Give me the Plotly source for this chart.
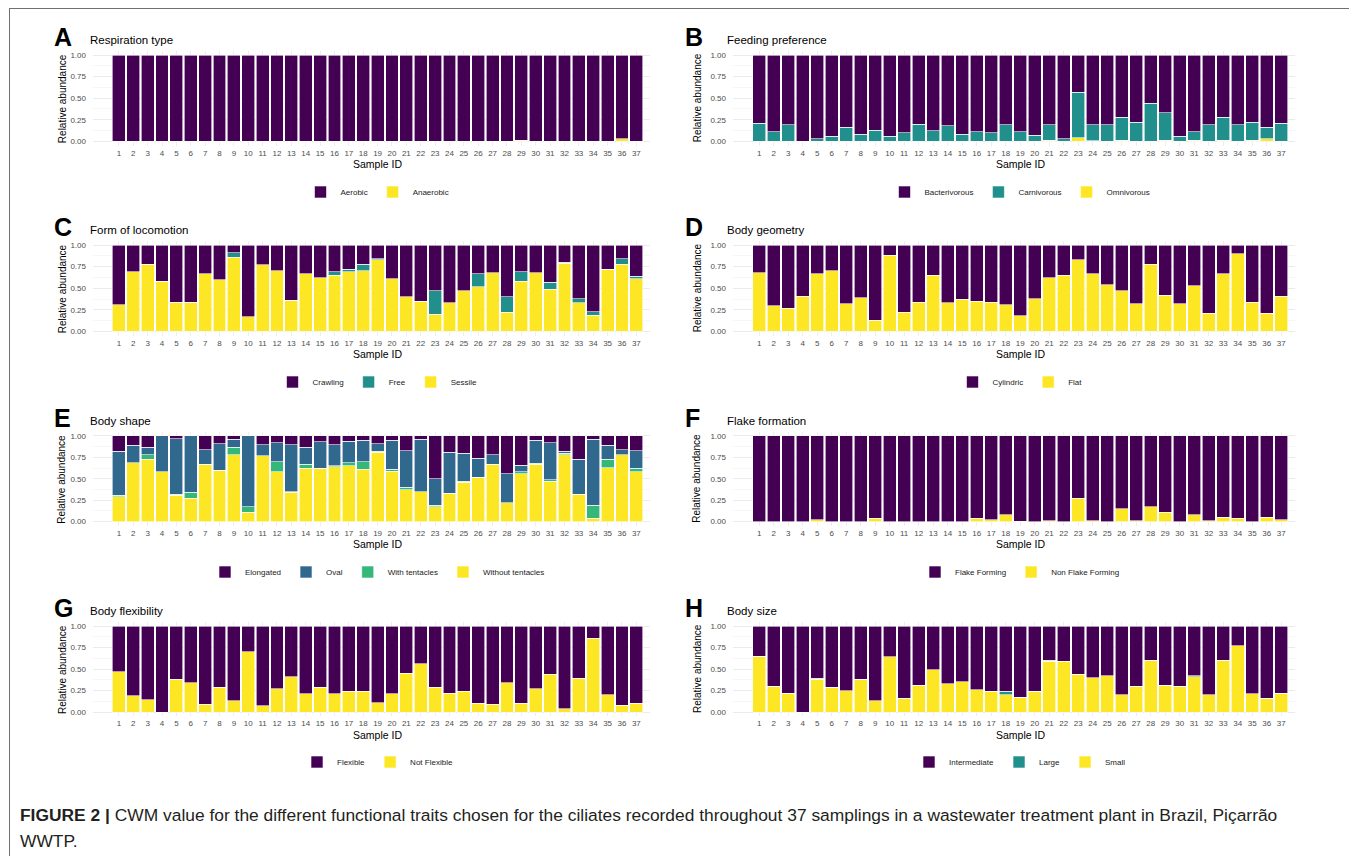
import plotly.graph_objects as go

W, H = 1357, 856
sample_ids = [str(i) for i in range(1, 38)]

# ---------------- data ----------------
# A  Respiration type
resp_levels = ["Aerobic", "Anaerobic"]
resp_aerobic = [1, 1, 1, 1, 1, 1, 1, 1, 1, 1, 1, 1, 1, 1, 1, 1, 1, 1, 1, 1, 1, 1, 1, 1, 1, 1, 1, 1, 0.99, 1, 1, 1, 1, 1, 1, 0.97, 1]
resp_anaerobic = [0, 0, 0, 0, 0, 0, 0, 0, 0, 0, 0, 0, 0, 0, 0, 0, 0, 0, 0, 0, 0, 0, 0, 0, 0, 0, 0, 0, 0.01, 0, 0, 0, 0, 0, 0, 0.03, 0]

# B  Feeding preference
feed_levels = ["Bacterivorous", "Carnivorous", "Omnivorous"]
feed_bacterivorous = [0.79, 0.89, 0.81, 1.00, 0.97, 0.94, 0.84, 0.92, 0.87, 0.94, 0.90, 0.80, 0.88, 0.82, 0.92, 0.89, 0.90, 0.81, 0.89, 0.93, 0.81, 0.97, 0.43, 0.81, 0.81, 0.72, 0.78, 0.56, 0.67, 0.94, 0.89, 0.81, 0.72, 0.81, 0.78, 0.84, 0.79]
feed_carnivorous = [0.21, 0.11, 0.19, 0.00, 0.03, 0.06, 0.16, 0.08, 0.13, 0.06, 0.10, 0.20, 0.12, 0.18, 0.08, 0.11, 0.10, 0.19, 0.11, 0.07, 0.18, 0.03, 0.53, 0.185, 0.19, 0.27, 0.22, 0.44, 0.32, 0.06, 0.10, 0.19, 0.27, 0.19, 0.21, 0.13, 0.21]
feed_omnivorous = [0, 0, 0, 0, 0, 0, 0, 0, 0, 0, 0, 0, 0, 0, 0, 0, 0, 0, 0, 0, 0.01, 0, 0.04, 0.005, 0, 0.01, 0, 0, 0.01, 0, 0.01, 0, 0.01, 0, 0.01, 0.03, 0]

# C  Form of locomotion
loco_levels = ["Crawling", "Free", "Sessile"]
loco_crawling = [0.69, 0.31, 0.22, 0.42, 0.66, 0.66, 0.33, 0.40, 0.09, 0.83, 0.23, 0.30, 0.64, 0.33, 0.38, 0.31, 0.28, 0.22, 0.16, 0.39, 0.60, 0.65, 0.53, 0.67, 0.53, 0.33, 0.32, 0.60, 0.31, 0.32, 0.43, 0.20, 0.62, 0.77, 0.28, 0.16, 0.36]
loco_free = [0, 0, 0, 0, 0.01, 0, 0, 0, 0.05, 0, 0, 0, 0, 0, 0, 0.04, 0.03, 0.08, 0.01, 0, 0, 0, 0.27, 0, 0, 0.15, 0, 0.18, 0.11, 0, 0.08, 0.01, 0.05, 0.04, 0, 0.06, 0.03]
loco_sessile = [0.31, 0.69, 0.78, 0.58, 0.33, 0.34, 0.67, 0.60, 0.86, 0.17, 0.77, 0.70, 0.36, 0.67, 0.62, 0.65, 0.69, 0.70, 0.83, 0.61, 0.40, 0.35, 0.20, 0.33, 0.47, 0.52, 0.68, 0.22, 0.58, 0.68, 0.49, 0.79, 0.33, 0.19, 0.72, 0.78, 0.61]

# D  Body geometry
geom_levels = ["Cylindric", "Flat"]
geom_cylindric = [0.32, 0.70, 0.73, 0.59, 0.33, 0.30, 0.68, 0.61, 0.87, 0.12, 0.78, 0.66, 0.35, 0.67, 0.63, 0.65, 0.66, 0.69, 0.82, 0.62, 0.38, 0.35, 0.17, 0.33, 0.46, 0.53, 0.68, 0.22, 0.58, 0.68, 0.47, 0.79, 0.33, 0.10, 0.66, 0.79, 0.59]
geom_flat = [0.68, 0.30, 0.27, 0.41, 0.67, 0.70, 0.32, 0.39, 0.13, 0.88, 0.22, 0.34, 0.65, 0.33, 0.37, 0.35, 0.34, 0.31, 0.18, 0.38, 0.62, 0.65, 0.83, 0.67, 0.54, 0.47, 0.32, 0.78, 0.42, 0.32, 0.53, 0.21, 0.67, 0.90, 0.34, 0.21, 0.41]

# E  Body shape
shape_levels = ["Elongated", "Oval", "With tentacles", "Without tentacles"]
shape_elongated = [0.18, 0.11, 0.13, 0.00, 0.03, 0.00, 0.16, 0.09, 0.04, 0.00, 0.10, 0.08, 0.10, 0.13, 0.07, 0.10, 0.06, 0.05, 0.09, 0.05, 0.17, 0.04, 0.50, 0.19, 0.20, 0.26, 0.22, 0.44, 0.34, 0.05, 0.08, 0.18, 0.27, 0.04, 0.11, 0.16, 0.17]
shape_oval = [0.51, 0.20, 0.09, 0.42, 0.65, 0.66, 0.17, 0.31, 0.09, 0.83, 0.13, 0.22, 0.55, 0.20, 0.31, 0.25, 0.25, 0.25, 0.09, 0.34, 0.43, 0.61, 0.31, 0.48, 0.33, 0.22, 0.11, 0.34, 0.08, 0.27, 0.43, 0.02, 0.41, 0.77, 0.16, 0.06, 0.21]
shape_with_tentacles = [0.02, 0.00, 0.05, 0.00, 0.01, 0.07, 0.00, 0.00, 0.09, 0.06, 0.00, 0.12, 0.01, 0.05, 0.00, 0.01, 0.04, 0.09, 0.01, 0.02, 0.03, 0.00, 0.02, 0.00, 0.01, 0.00, 0.00, 0.00, 0.02, 0.01, 0.02, 0.02, 0.00, 0.15, 0.10, 0.00, 0.04]
shape_without_tentacles = [0.29, 0.69, 0.73, 0.58, 0.31, 0.27, 0.67, 0.60, 0.78, 0.11, 0.77, 0.58, 0.34, 0.62, 0.62, 0.64, 0.65, 0.61, 0.81, 0.59, 0.37, 0.35, 0.17, 0.33, 0.46, 0.52, 0.67, 0.22, 0.56, 0.67, 0.47, 0.78, 0.32, 0.04, 0.63, 0.78, 0.58]

# F  Flake formation
flake_levels = ["Flake Forming", "Non Flake Forming"]
flake_forming = [1, 1, 1, 1, 0.98, 1, 1, 1, 0.96, 1, 1, 1, 1, 1, 1, 0.96, 0.98, 0.92, 0.995, 1, 0.99, 1, 0.73, 0.99, 1, 0.85, 0.99, 0.83, 0.89, 1, 0.92, 0.99, 0.95, 0.96, 1, 0.95, 0.98]
flake_non_forming = [0, 0, 0, 0, 0.02, 0, 0, 0, 0.04, 0, 0, 0, 0, 0, 0, 0.04, 0.02, 0.08, 0.005, 0, 0.01, 0, 0.27, 0.01, 0, 0.15, 0.01, 0.17, 0.11, 0, 0.08, 0.01, 0.05, 0.04, 0, 0.05, 0.02]

# G  Body flexibility
flex_levels = ["Flexible", "Not Flexible"]
flex_flexible = [0.53, 0.81, 0.86, 1.00, 0.62, 0.66, 0.91, 0.71, 0.87, 0.30, 0.93, 0.73, 0.59, 0.79, 0.71, 0.79, 0.76, 0.76, 0.89, 0.79, 0.55, 0.44, 0.71, 0.78, 0.76, 0.90, 0.91, 0.66, 0.90, 0.73, 0.56, 0.96, 0.61, 0.14, 0.80, 0.92, 0.90]
flex_not_flexible = [0.47, 0.19, 0.14, 0.00, 0.38, 0.34, 0.09, 0.29, 0.13, 0.70, 0.07, 0.27, 0.41, 0.21, 0.29, 0.21, 0.24, 0.24, 0.11, 0.21, 0.45, 0.56, 0.29, 0.22, 0.24, 0.10, 0.09, 0.34, 0.10, 0.27, 0.44, 0.04, 0.39, 0.86, 0.20, 0.08, 0.10]

# H  Body size
size_levels = ["Intermediate", "Large", "Small"]
size_intermediate = [0.35, 0.70, 0.78, 1.00, 0.61, 0.71, 0.75, 0.62, 0.87, 0.36, 0.84, 0.69, 0.51, 0.67, 0.65, 0.74, 0.76, 0.76, 0.83, 0.76, 0.40, 0.41, 0.56, 0.60, 0.58, 0.80, 0.70, 0.40, 0.69, 0.70, 0.58, 0.80, 0.40, 0.23, 0.79, 0.84, 0.78]
size_large = [0, 0, 0, 0, 0.01, 0, 0, 0, 0, 0, 0, 0, 0, 0, 0, 0, 0, 0.04, 0, 0, 0.01, 0, 0, 0, 0, 0, 0, 0, 0, 0, 0.01, 0, 0, 0, 0, 0, 0]
size_small = [0.65, 0.30, 0.22, 0.00, 0.38, 0.29, 0.25, 0.38, 0.13, 0.64, 0.16, 0.31, 0.49, 0.33, 0.35, 0.26, 0.24, 0.20, 0.17, 0.24, 0.59, 0.59, 0.44, 0.40, 0.42, 0.20, 0.30, 0.60, 0.31, 0.30, 0.41, 0.20, 0.60, 0.77, 0.21, 0.16, 0.22]

y_ticks = [0, 0.25, 0.5, 0.75, 1.0]
y_ticktext = ["0.00", "0.25", "0.50", "0.75", "1.00"]

caption_bold = "FIGURE 2 |"
caption_text = (" CWM value for the different functional traits chosen for the ciliates recorded "
                "throughout 37 samplings in a wastewater treatment plant in Brazil, Piçarrão")
caption_line2 = "WWTP."

# ---------------- styling ----------------
PAL2 = ["#440154", "#FDE725"]
PAL3 = ["#440154", "#21908C", "#FDE725"]
PAL4 = ["#440154", "#31688E", "#35B779", "#FDE725"]
FONT = "Liberation Sans, Arial, Helvetica, sans-serif"

panels = [
    dict(letter="A", title="Respiration type", levels=resp_levels, series=[resp_aerobic, resp_anaerobic], pal=PAL2, col=0, row=0),
    dict(letter="B", title="Feeding preference", levels=feed_levels, series=[feed_bacterivorous, feed_carnivorous, feed_omnivorous], pal=PAL3, col=1, row=0),
    dict(letter="C", title="Form of locomotion", levels=loco_levels, series=[loco_crawling, loco_free, loco_sessile], pal=PAL3, col=0, row=1),
    dict(letter="D", title="Body geometry", levels=geom_levels, series=[geom_cylindric, geom_flat], pal=PAL2, col=1, row=1),
    dict(letter="E", title="Body shape", levels=shape_levels, series=[shape_elongated, shape_oval, shape_with_tentacles, shape_without_tentacles], pal=PAL4, col=0, row=2),
    dict(letter="F", title="Flake formation", levels=flake_levels, series=[flake_forming, flake_non_forming], pal=PAL2, col=1, row=2),
    dict(letter="G", title="Body flexibility", levels=flex_levels, series=[flex_flexible, flex_not_flexible], pal=PAL2, col=0, row=3),
    dict(letter="H", title="Body size", levels=size_levels, series=[size_intermediate, size_large, size_small], pal=PAL3, col=1, row=3),
]

# page body has an 8px margin: the figure is drawn from (8, 8)
OFF = 8
FW, FH = W - OFF, H - OFF

col_px = [(93, 650), (733, 1295)]
row_px = [(50.7, 145.6), (240.7, 335.8), (431.7, 525.8), (621.7, 716.3)]
legend_y = [192, 382, 572, 762]
letter_x = [52, 683]
title_x = [88, 725]
ylab_x = [62, 697]
x_center = [377.5, 1020]


def px(v):
    return (v - OFF) / FW


def py(v):
    return 1 - (v - OFF) / FH


fig = go.Figure()
layout = dict(
    width=FW, height=FH, autosize=False,
    margin=dict(l=0, r=0, t=0, b=0),
    paper_bgcolor="white", plot_bgcolor="white",
    barmode="stack", showlegend=True,
    font=dict(family=FONT, color="#1a1a1a"),
)
annotations = []

for k, p in enumerate(panels, start=1):
    sfx = "" if k == 1 else str(k)
    xa, ya = "x" + sfx, "y" + sfx
    leg = "legend" + sfx
    x0, x1 = col_px[p["col"]]
    y0, y1 = row_px[p["row"]]
    n = len(p["levels"])
    # bottom level first so the first level sits on top (ggplot order)
    for i in reversed(range(n)):
        fig.add_trace(go.Bar(
            x=sample_ids, y=p["series"][i], name=p["levels"][i],
            xaxis=xa, yaxis=ya, legend=leg, legendrank=i + 1,
            width=0.9,
            marker=dict(color=p["pal"][i], line=dict(color="white", width=0.6)),
            hovertemplate="%{x}: %{y}<extra>" + p["levels"][i] + "</extra>",
        ))
    layout["xaxis" + sfx] = dict(
        domain=[px(x0), px(x1)], anchor=ya, type="category",
        range=[-1.8, 36.95], showgrid=True, gridcolor="#EDEDED", gridwidth=1,
        zeroline=False, showline=False, ticks="",
        tickfont=dict(size=8, color="#4D4D4D"), ticklabelstandoff=1,
        fixedrange=True,
    )
    layout["yaxis" + sfx] = dict(
        domain=[py(y1), py(y0)], anchor=xa, range=[-0.05, 1.05],
        tickvals=y_ticks, ticktext=y_ticktext,
        showgrid=True, gridcolor="#EBEBEB", gridwidth=1,
        minor=dict(dtick=0.125, showgrid=True, gridcolor="#F6F6F6", gridwidth=1, tick0=0),
        zeroline=False, showline=False, ticks="",
        tickfont=dict(size=8, color="#4D4D4D"), ticklabelstandoff=6,
        fixedrange=True,
    )
    layout[leg] = dict(
        orientation="h", xanchor="center", yanchor="middle",
        x=px(x_center[p["col"]]), y=py(legend_y[p["row"]]),
        font=dict(size=8, color="#1a1a1a"), traceorder="normal",
        bgcolor="rgba(0,0,0,0)", itemwidth=30, itemclick=False,
    )
    # panel letter
    annotations.append(dict(
        text="<b>" + p["letter"] + "</b>", x=px(letter_x[p["col"]]), y=py(y0 - 13.5),
        xref="paper", yref="paper", xanchor="left", yanchor="middle",
        showarrow=False, font=dict(size=25, color="black", family=FONT),
    ))
    # title
    annotations.append(dict(
        text=p["title"], x=px(title_x[p["col"]]), y=py(y0 - 11),
        xref="paper", yref="paper", xanchor="left", yanchor="middle",
        showarrow=False, font=dict(size=11.5, color="black", family=FONT),
    ))
    # y axis title
    annotations.append(dict(
        text="Relative abundance", x=px(ylab_x[p["col"]]), y=py((y0 + y1) / 2),
        xref="paper", yref="paper", xanchor="center", yanchor="middle",
        textangle=-90, showarrow=False, font=dict(size=10, color="black", family=FONT),
    ))
    # x axis title
    annotations.append(dict(
        text="Sample ID", x=px(x_center[p["col"]]), y=py(y1 + 18.5),
        xref="paper", yref="paper", xanchor="center", yanchor="middle",
        showarrow=False, font=dict(size=10.5, color="black", family=FONT),
    ))

annotations.append(dict(
    text="<b>" + caption_bold + "</b>" + caption_text, x=px(18), y=py(815),
    xref="paper", yref="paper", xanchor="left", yanchor="middle",
    showarrow=False, font=dict(size=17.4, color="#231F20", family=FONT),
))
annotations.append(dict(
    text=caption_line2, x=px(18), y=py(841),
    xref="paper", yref="paper", xanchor="left", yanchor="middle",
    showarrow=False, font=dict(size=17.4, color="#231F20", family=FONT),
))
layout["annotations"] = annotations

border = dict(color="#707070", width=1)
layout["shapes"] = [
    dict(type="line", xref="paper", yref="paper", x0=px(9), x1=px(1352), y0=py(8.5), y1=py(8.5), line=border),
    dict(type="line", xref="paper", yref="paper", x0=px(9.5), x1=px(9.5), y0=py(8.5), y1=py(H), line=border),
    dict(type="line", xref="paper", yref="paper", x0=px(1352), x1=px(1352), y0=py(8.5), y1=py(H), line=border),
]

fig.update_layout(**layout)
fig.write_html("out.html")
